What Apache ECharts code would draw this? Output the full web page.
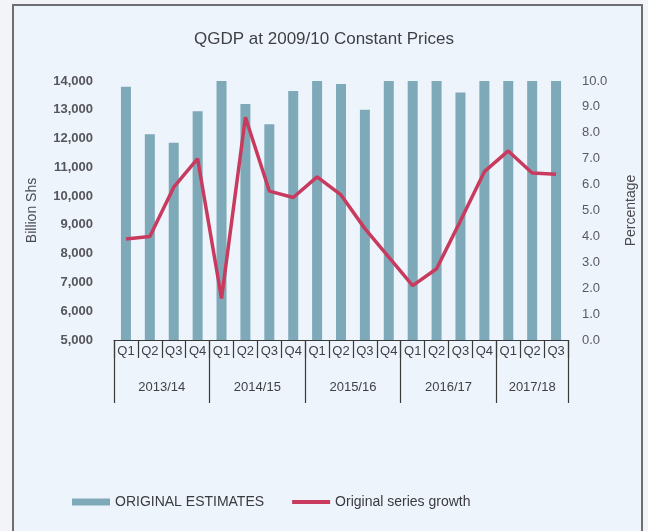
<!DOCTYPE html>
<html>
<head>
<meta charset="utf-8">
<script src="https://cdn.jsdelivr.net/npm/echarts@6/dist/echarts.min.js"></script>
<style>
  html, body { margin: 0; padding: 0; background: #f3f4f8; }
  #chart { width: 648px; height: 531px; }
</style>
</head>
<body>
<div id="chart"></div>
<script>
// Quarterly GDP at constant 2009/10 prices and its growth rate
const quarters = ['Q1','Q2','Q3','Q4','Q1','Q2','Q3','Q4','Q1','Q2','Q3','Q4','Q1','Q2','Q3','Q4','Q1','Q2','Q3'];
const fiscalYears = ['2013/14', '2014/15', '2015/16', '2016/17', '2017/18'];
const yearBoundaries = [0, 4, 8, 12, 16, 19];
const yearCentres = [2, 6, 10, 14, 17.5];

// Billion Shs (values above the axis ceiling are cut off at 14,000)
const originalEstimates = [13800, 12150, 11850, 12950, 14000, 13200, 12500, 13650, 14000, 13900,
                           13000, 14000, 14000, 14000, 13600, 14000, 14000, 14000, 14000];
// Percentage
const seriesGrowth = [3.9, 4.0, 5.9, 7.0, 1.6, 8.6, 5.75, 5.5, 6.3, 5.6,
                      4.3, 3.2, 2.1, 2.75, 4.6, 6.5, 7.3, 6.45, 6.4];

const leftTicks = { min: 5000, max: 14000, step: 1000 };
const rightTicks = { min: 0, max: 10, step: 1 };

const chart = echarts.init(document.getElementById('chart'), null, { renderer: 'canvas' });

chart.setOption({
  backgroundColor: '#f3f4f8',
  animation: false,
  graphic: [{
    type: 'rect',
    z: -10,
    shape: { x: 13, y: 5, width: 629, height: 540 },
    style: { fill: '#eef4fb', stroke: '#6e6e72', lineWidth: 2 }
  }],
  title: {
    text: 'QGDP at 2009/10 Constant Prices',
    left: 'center',
    top: 26,
    textStyle: { fontFamily: 'Liberation Sans, Arial, sans-serif', fontSize: 17, fontWeight: 'normal', color: '#3f3f46' }
  },
  legend: {
    left: 67,
    top: 490,
    itemGap: 28,
    itemWidth: 38,
    itemHeight: 7,
    symbolKeepAspect: true,
    textStyle: { fontFamily: 'Liberation Sans, Arial, sans-serif', fontSize: 14, color: '#3a3a40' },
    data: [
      { name: 'ORIGINAL ESTIMATES', icon: 'rect' },
      { name: 'Original series growth', icon: 'path://M0,0H40V4H0Z' }
    ]
  },
  grid: { left: 114, right: 80, top: 81, bottom: 191 },
  xAxis: [
    {
      type: 'category',
      data: quarters,
      boundaryGap: true,
      axisLine: { show: true, lineStyle: { color: '#3a3a3a', width: 1.2 } },
      axisTick: { show: true, interval: 0, length: 18, lineStyle: { color: '#3a3a3a', width: 1.2 } },
      axisLabel: { interval: 0, margin: 5, fontFamily: 'Liberation Sans, Arial, sans-serif', fontSize: 13, color: '#3f3f46' }
    },
    {
      type: 'value',
      position: 'bottom',
      min: 0,
      max: 19,
      axisLine: { show: false },
      splitLine: { show: false },
      axisTick: { show: true, customValues: yearBoundaries, length: 63, lineStyle: { color: '#3a3a3a', width: 1.2 } },
      axisLabel: {
        customValues: yearCentres,
        margin: 41,
        fontFamily: 'Liberation Sans, Arial, sans-serif',
        fontSize: 13,
        color: '#3f3f46',
        formatter: v => fiscalYears[yearCentres.indexOf(v)]
      }
    }
  ],
  yAxis: [
    {
      type: 'value',
      min: leftTicks.min,
      max: leftTicks.max,
      interval: leftTicks.step,
      name: 'Billion Shs',
      nameLocation: 'middle',
      nameGap: 75,
      nameTextStyle: { fontFamily: 'Liberation Sans, Arial, sans-serif', fontSize: 14, color: '#4a4a50' },
      axisLine: { show: false },
      axisTick: { show: false },
      splitLine: { show: false },
      axisLabel: {
        margin: 21,
        fontFamily: 'Liberation Sans, Arial, sans-serif',
        fontSize: 13,
        fontWeight: 'bold',
        color: '#55555c',
        formatter: v => v.toLocaleString('en-US')
      }
    },
    {
      type: 'value',
      min: rightTicks.min,
      max: rightTicks.max,
      interval: rightTicks.step,
      name: 'Percentage',
      nameLocation: 'middle',
      nameGap: 56,
      nameRotate: 90,
      nameTextStyle: { fontFamily: 'Liberation Sans, Arial, sans-serif', fontSize: 14, color: '#4a4a50' },
      axisLine: { show: false },
      axisTick: { show: false },
      splitLine: { show: false },
      axisLabel: {
        margin: 14,
        fontFamily: 'Liberation Sans, Arial, sans-serif',
        fontSize: 13,
        color: '#5a5a60',
        formatter: v => v.toFixed(1)
      }
    }
  ],
  series: [
    {
      name: 'ORIGINAL ESTIMATES',
      type: 'bar',
      xAxisIndex: 0,
      yAxisIndex: 0,
      data: originalEstimates,
      barWidth: 10,
      itemStyle: { color: '#7ea9b9' }
    },
    {
      name: 'Original series growth',
      type: 'line',
      xAxisIndex: 0,
      yAxisIndex: 1,
      data: seriesGrowth,
      symbol: 'none',
      lineStyle: { color: '#c93b5e', width: 3.5 },
      itemStyle: { color: '#c93b5e' }
    }
  ]
});
</script>
</body>
</html>
